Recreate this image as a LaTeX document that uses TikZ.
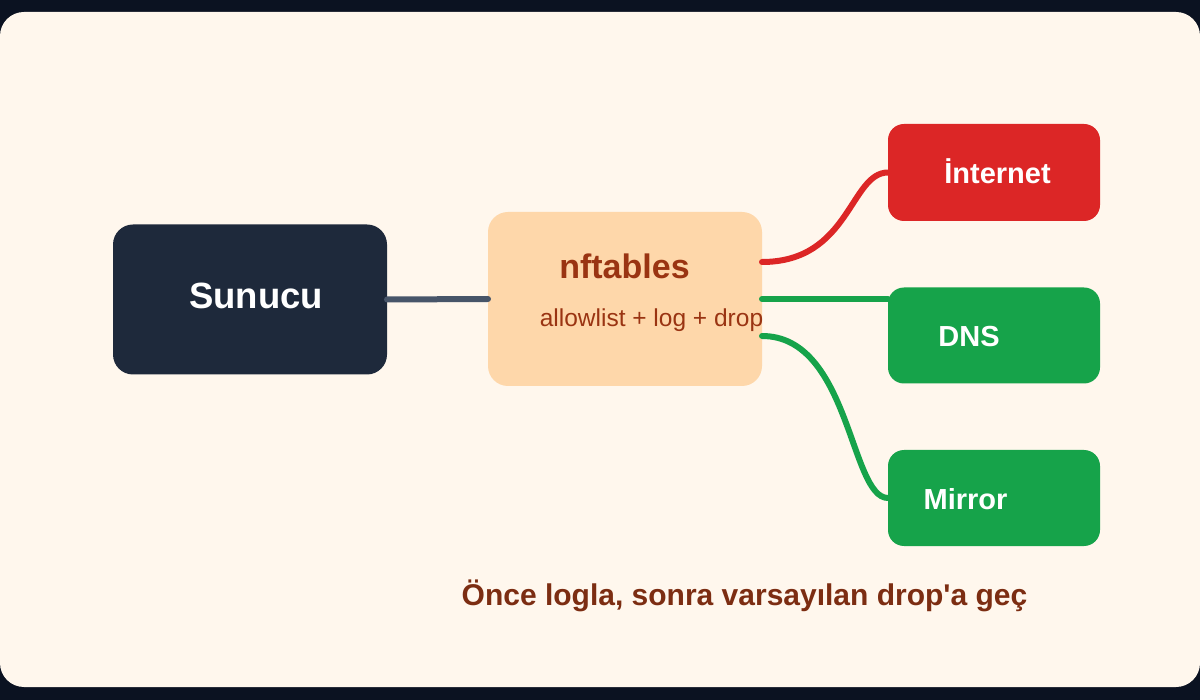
\documentclass[tikz,border=0pt]{standalone}
\usepackage{fontspec}
\setmainfont{Liberation Sans}[Ligatures=TeXOff]
\usetikzlibrary{calc}
\definecolor{pagedark}{HTML}{0B1221}
\definecolor{cream}{HTML}{FFF7ED}
\definecolor{navy}{HTML}{1E293B}
\definecolor{peach}{HTML}{FED7AA}
\definecolor{rust}{HTML}{9A3412}
\definecolor{rustdark}{HTML}{7C2D12}
\definecolor{redc}{HTML}{DC2626}
\definecolor{greenc}{HTML}{16A34A}
\definecolor{slatec}{HTML}{475569}
\begin{document}
\begin{tikzpicture}[x=1pt,y=-1pt,
  box/.style={rectangle, inner sep=0pt, outer sep=0pt},
  conn/.style={line width=6pt, line cap=round},
  lbl/.style={inner sep=0pt, anchor=base},
  bigw/.style={lbl, text=white, font=\fontsize{36.5}{40}\selectfont\bfseries},
  smallw/.style={lbl, text=white, font=\fontsize{29}{33}\selectfont\bfseries}]
\useasboundingbox (0,0) rectangle (1200,700);
\fill[pagedark] (0,0) rectangle (1200,700);
\fill[cream, rounded corners=24pt] (0,12) rectangle (1200,687);
% boxes
\node[box, fill=navy, rounded corners=20pt, minimum width=274pt, minimum height=150pt] (sun) at (250,299.5) {};
\node[box, fill=peach, rounded corners=20pt, minimum width=274pt, minimum height=174pt] (nft) at (625,299) {};
\node[box, fill=redc, rounded corners=16pt, minimum width=212pt, minimum height=97pt] (int) at (994,172.5) {};
\node[box, fill=greenc, rounded corners=16pt, minimum width=212pt, minimum height=96pt] (dns) at (994,335.5) {};
\node[box, fill=greenc, rounded corners=16pt, minimum width=212pt, minimum height=96pt] (mir) at (994,498) {};
% connectors
\draw[conn, slatec] (sun.east) -- (nft.west);
\draw[conn, redc] ($(nft.east)+(0,-37)$) .. controls +(88,0) and +(-38,0) .. (int.west);
\draw[conn, greenc] (nft.east) -- (nft.east -| dns.west);
\draw[conn, greenc] ($(nft.east)+(0,37)$) .. controls +(88,0) and +(-38,0) .. (mir.west);
% labels
\node[bigw] (tsun) at (256,309) {Sunucu};
\node[lbl, text=rust, font=\fontsize{34}{38}\selectfont\bfseries] (tnft) at (624.5,279) {nftables};
\node[lbl, text=rust, font=\fontsize{24.5}{28}\selectfont] (tsub) at (651.5,327) {allowlist + log + drop};
\node[smallw] (tint) at (997.5,184) {İnternet};
\node[smallw] (tdns) at (969,347) {DNS};
\node[smallw] (tmir) at (965.5,509) {Mirror};
\node[lbl, text=rustdark, font=\fontsize{30}{34}\selectfont\bfseries] (tfoot) at (744.5,605) {Önce logla, sonra varsayılan drop'a geç};
\end{tikzpicture}
\end{document}
